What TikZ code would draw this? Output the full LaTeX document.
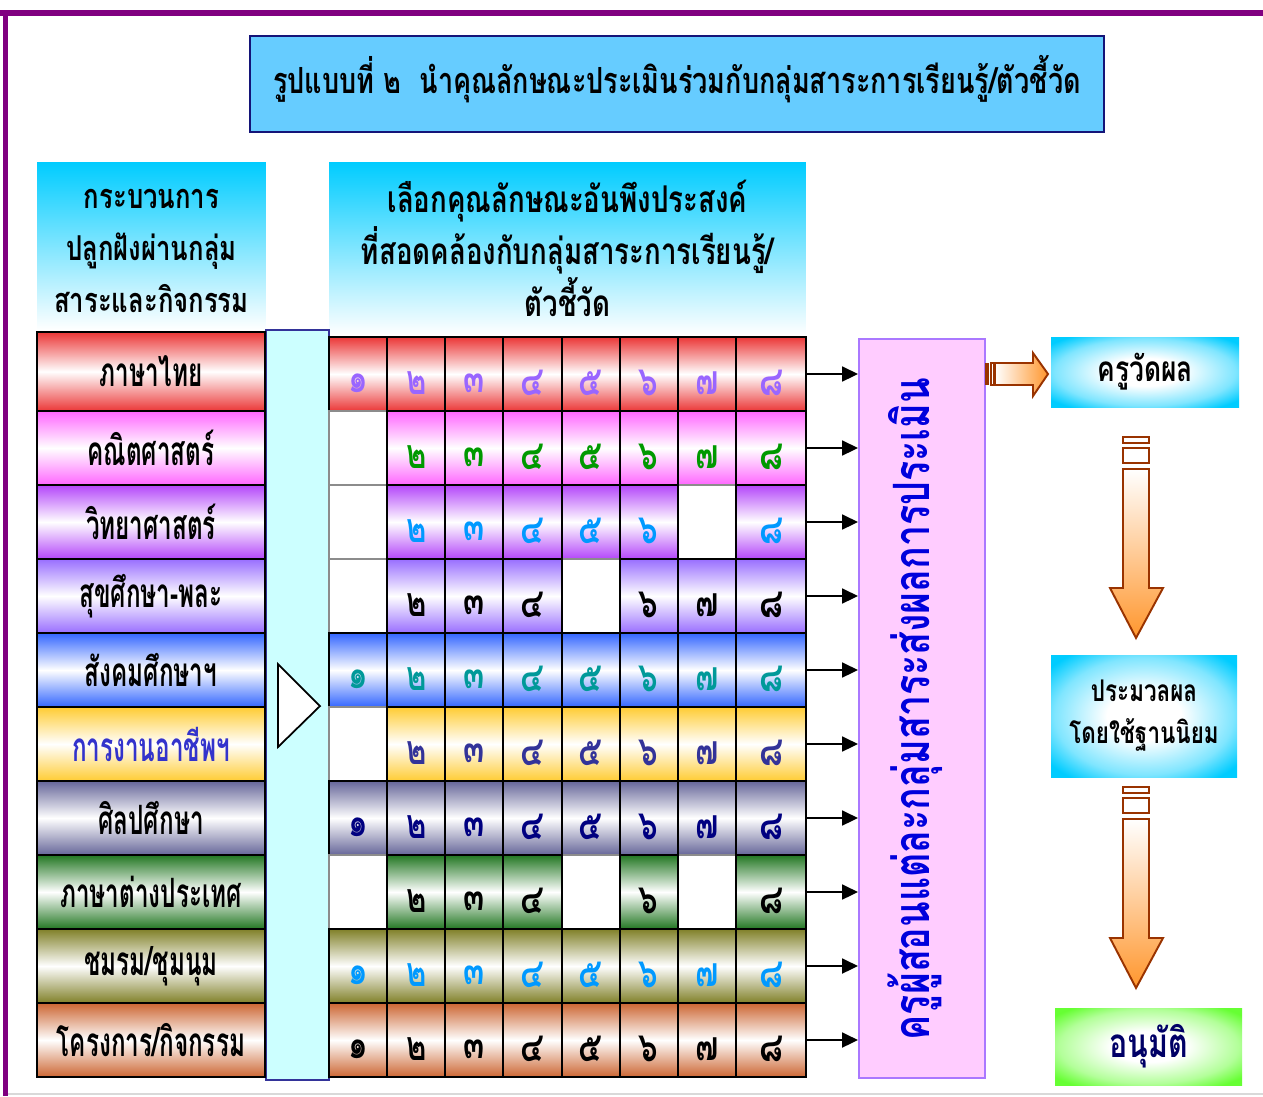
\documentclass[tikz,border=0pt]{standalone}
\usepackage{fontspec}
\usetikzlibrary{positioning,calc,arrows.meta}
\newfontfamily\thaifont[Script=Thai,FakeStretch=0.75]{Loma}
\newfontfamily\thainarrow[Script=Thai,FakeStretch=0.6]{Loma}
\definecolor{framepurple}{RGB}{128,0,128}
\definecolor{titleblue}{RGB}{102,204,255}
\definecolor{titleedge}{RGB}{20,20,120}
\definecolor{hdrcyan}{RGB}{0,204,255}
\definecolor{barcyan}{RGB}{204,255,255}
\definecolor{baredge}{RGB}{51,51,153}
\definecolor{evalpink}{RGB}{255,204,255}
\definecolor{evaledge}{RGB}{170,120,255}
\definecolor{evaltext}{RGB}{0,0,220}
\definecolor{arrowbrown}{RGB}{153,51,0}
\definecolor{arroworange}{RGB}{255,150,45}
\definecolor{okgreen}{RGB}{102,255,51}
\definecolor{okblue}{RGB}{0,0,102}
% row colours
\definecolor{rowthai}{RGB}{235,55,55}
\definecolor{rowmath}{RGB}{255,102,255}
\definecolor{rowsci}{RGB}{180,70,250}
\definecolor{rowpe}{RGB}{153,110,255}
\definecolor{rowsoc}{RGB}{51,102,255}
\definecolor{rowwork}{RGB}{255,204,51}
\definecolor{rowart}{RGB}{102,102,153}
\definecolor{rowlang}{RGB}{34,119,34}
\definecolor{rowclub}{RGB}{128,128,40}
\definecolor{rowproj}{RGB}{204,102,51}
% digit colours
\definecolor{digthai}{RGB}{153,102,255}
\definecolor{digmath}{RGB}{0,153,0}
\definecolor{digsci}{RGB}{0,153,255}
\definecolor{digsoc}{RGB}{0,153,153}
\definecolor{digwork}{RGB}{51,51,153}
\definecolor{digart}{RGB}{0,0,128}
\definecolor{workblue}{RGB}{51,51,204}
\pgfdeclareradialshading{cyanglow}{\pgfpoint{0bp}{0bp}}{color(0bp)=(white); color(10bp)=(white); color(24bp)=(hdrcyan!50); color(32bp)=(hdrcyan); color(50bp)=(hdrcyan)}
\pgfdeclareradialshading{greenglow}{\pgfpoint{0bp}{0bp}}{color(0bp)=(white); color(10bp)=(white); color(24bp)=(okgreen!50); color(32bp)=(okgreen); color(50bp)=(okgreen)}
\newcommand\thdigit[1]{\ifcase#1\or ๑\or ๒\or ๓\or ๔\or ๕\or ๖\or ๗\or ๘\fi}
\tikzset{
  titlebox/.style={draw=titleedge, fill=titleblue, line width=1.5pt, minimum width=17.08cm, minimum height=1.92cm},
  titletext/.style={font=\thaifont\bfseries\fontsize{20.5}{24}\selectfont},
  hdr/.style={top color=hdrcyan, bottom color=white},
  hdrtext/.style={align=center, font=\thaifont\bfseries\fontsize{19.5}{29.6}\selectfont},
  subj/.style={font=\thainarrow\bfseries\fontsize{23}{26}\selectfont},
  digit/.style={font=\thaifont\bfseries\fontsize{23.5}{28}\selectfont},
  cellbox/.style={draw=black, line width=1.2pt},
  blankcell/.style={draw=black!45, line width=0.6pt, fill=white},
  feed/.style={line width=1.1pt, -{Triangle[length=9pt,width=8.5pt]}},
  resultbox/.style={shading=cyanglow, minimum width=3.76cm, font=\thaifont\bfseries\fontsize{20}{27}\selectfont, align=center},
  blockarrow/.style={draw=arrowbrown, line width=1.1pt}
}
\begin{document}
\begin{tikzpicture}[x=0.02cm,y=-0.02cm]
\useasboundingbox (0,0) rectangle (1263,1096);
% frame
\fill[framepurple] (0,10) rectangle (1263,16);
\fill[framepurple] (3,10) rectangle (8,1096);
\draw[black!15, line width=0.8pt] (8,1094) -- (1263,1094);

% title
\node[titlebox] (title) at (677,84) {};
\node[titletext] (titletxt) at (677,79) {รูปแบบที่ ๒~~นำคุณลักษณะประเมินร่วมกับกลุ่มสาระการเรียนรู้/ตัวชี้วัด};

% headers
\node[hdr, minimum width=4.58cm, minimum height=3.36cm] (hdrL) at (151.5,246) {};
\node[hdrtext] (hdrLtxt) at (151.5,251) {กระบวนการ\\ปลูกฝังผ่านกลุ่ม\\สาระและกิจกรรม};
\node[hdr, minimum width=9.54cm, minimum height=3.46cm] (hdrM) at (567.5,248.5) {};
\node[hdrtext, font=\thaifont\bfseries\fontsize{21}{29.6}\selectfont] (hdrMtxt) at (567.5,248.5) {เลือกคุณลักษณะอันพึงประสงค์\\ที่สอดคล้องกับกลุ่มสาระการเรียนรู้/\\ตัวชี้วัด};

% bar between subjects and grid
\node[draw=baredge, fill=barcyan, line width=1.2pt, minimum width=1.26cm, minimum height=15cm] (bar) at (297.5,705) {};
\draw[fill=white, line width=1pt] (278,664) -- (320,706) -- (278,747) -- cycle;

% evaluation box
\node[draw=evaledge, fill=evalpink, line width=1.2pt, minimum width=2.52cm, minimum height=14.78cm] (eval) at (922,708.5) {};
\node[rotate=90, text=evaltext, font=\thaifont\bfseries\fontsize{28.5}{32}\selectfont] (evallab) at (915,709) {ครูผู้สอนแต่ละกลุ่มสาระส่งผลการประเมิน};

% subject rows
\foreach \r/\rc/\lab/\lc/\dc/\digs in {
  1/rowthai/ภาษาไทย/black/digthai/{1,2,3,4,5,6,7,8},
  2/rowmath/คณิตศาสตร์/black/digmath/{2,3,4,5,6,7,8},
  3/rowsci/วิทยาศาสตร์/black/digsci/{2,3,4,5,6,8},
  4/rowpe/สุขศึกษา-พละ/black/black/{2,3,4,6,7,8},
  5/rowsoc/สังคมศึกษาฯ/black/digsoc/{1,2,3,4,5,6,7,8},
  6/rowwork/การงานอาชีพฯ/workblue/digwork/{2,3,4,5,6,7,8},
  7/rowart/ศิลปศึกษา/black/digart/{1,2,3,4,5,6,7,8},
  8/rowlang/ภาษาต่างประเทศ/black/black/{2,3,4,6,8},
  9/rowclub/{ชมรม/ชุมนุม}/black/digsci/{1,2,3,4,5,6,7,8},
  10/rowproj/{โครงการ/กิจกรรม}/black/black/{1,2,3,4,5,6,7,8}}{
  \pgfmathsetmacro\yt{337+74*(\r-1)}
  \pgfmathsetmacro\yb{\yt+74}
  \pgfmathsetmacro\ym{\yt+37}
  \pgfmathsetmacro\ylt{\r==1 ? 332 : \yt}
  \draw[line width=1.5pt, top color=\rc, bottom color=\rc, middle color=white] (37,\ylt) rectangle (265,\yb);
  \node[subj, text=\lc] (s\r) at (151,{(\ylt+\yb)/2}) {\lab};
  \foreach \c in {1,...,8}{
    \pgfmathsetmacro\xl{329+58.14*(\c-1)}
    \pgfmathsetmacro\xr{\c<8 ? \xl+58.14 : 806}
    \draw[blankcell] (\xl,\yt) rectangle (\xr,\yb);
  }
  \foreach \c in \digs{
    \pgfmathsetmacro\xl{329+58.14*(\c-1)}
    \pgfmathsetmacro\xr{\c<8 ? \xl+58.14 : 806}
    \draw[cellbox, top color=\rc, bottom color=\rc, middle color=white] (\xl,\yt) rectangle (\xr,\yb);
    \node[digit, text=\dc] (c\r-\c) at ({(\xl+\xr)/2},{\yt+46}) {\thdigit{\c}};
  }
  \coordinate (e\r) at (806,\ym);
  \draw[feed] (e\r) -- (e\r -| eval.west);
}

% results
\node[resultbox, minimum height=1.4cm] (vadpol) at (1145,372) {ครูวัดผล};
\node[resultbox, minimum height=2.44cm, minimum width=3.72cm, font=\thaifont\bfseries\fontsize{17}{24}\selectfont] (pramual) at (1144,716) {ประมวลผล\\โดยใช้ฐานนิยม};
\node[resultbox, shading=greenglow, minimum height=1.54cm, minimum width=3.74cm, text=okblue, font=\thaifont\bfseries\fontsize{23}{27}\selectfont] (anumat) at (1148.5,1046.5) {อนุมัติ};

% block arrows
\fill[arrowbrown] (985,363) rectangle (989,385);
\draw[blockarrow, fill=white] (991,363) rectangle (993.5,385);
\draw[blockarrow, left color=white, right color=arroworange] (995,363) -- (1033,363) -- (1033,353) -- (1048,374) -- (1033,396) -- (1033,385) -- (995,385) -- cycle;
\foreach \t in {437,787}{
  \draw[blockarrow, fill=white] (1123,\t) rectangle (1149,\t+6);
  \draw[blockarrow, fill=white] (1123,\t+11) rectangle (1149,\t+26);
  \draw[blockarrow, top color=white, bottom color=arroworange] (1123,\t+32) -- (1123,\t+151) -- (1110,\t+151) -- (1136,\t+201) -- (1163,\t+151) -- (1149,\t+151) -- (1149,\t+32) -- cycle;
}
\end{tikzpicture}
\end{document}
